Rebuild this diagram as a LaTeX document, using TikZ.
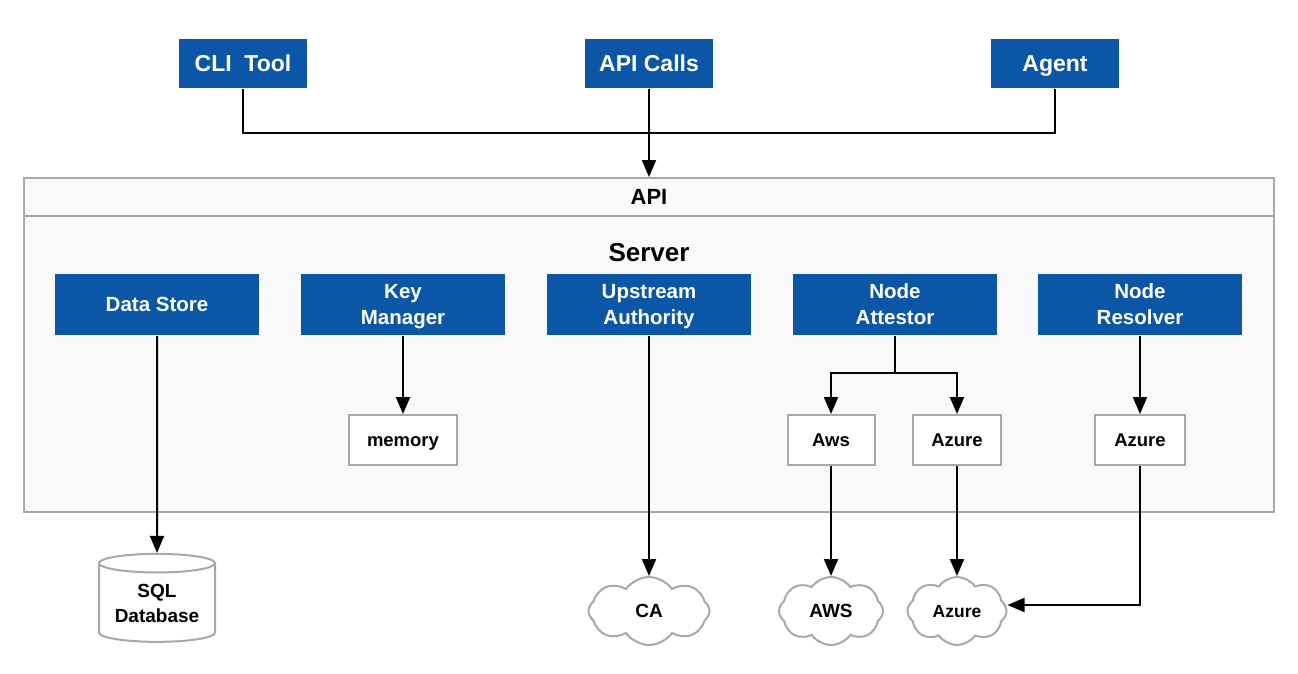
\documentclass[tikz,border=0pt]{standalone}
\usepackage{fontspec}
\setmainfont{Liberation Sans}
\usetikzlibrary{arrows.meta}
\usetikzlibrary{shapes.geometric}
\usetikzlibrary{shapes.symbols}
\definecolor{sblue}{RGB}{12, 86, 168}
\definecolor{sgrey}{RGB}{168, 168, 168}
\definecolor{sback}{RGB}{250, 250, 250}
\tikzset{oneline/.style = {font=\bfseries\fontsize{#1}{#1}\selectfont,
                           text height=0.76*#1, text depth=0.04*#1}}
\tikzset{topbox/.style = {fill=sblue, text=white, inner sep=0, oneline=23pt,
                          minimum width=128, minimum height=49}}
\tikzset{bluebox/.style = {fill=sblue, text=white, inner sep=0, align=center, text depth=0,
                           minimum width=204, minimum height=61,
                           font=\bfseries\fontsize{20.5}{26}\selectfont}}
\tikzset{whitebox/.style = {draw=sgrey, fill=white, inner sep=0, oneline=18.5pt,
                            minimum height=50}}
\tikzset{cloudy/.style = {cloud, cloud puffs=8, cloud puff arc=110, aspect=2, draw=sgrey,
                          fill=white, inner sep=0, oneline=19pt}}
\tikzset{arr/.style = {-{Triangle[length=17pt, width=14pt]}}}

\begin{document}
\begin{tikzpicture}[x=1pt, y=-1pt, line width=2]
    \useasboundingbox (0, 0) rectangle (1298, 674);
    \node [draw=sgrey, fill=sback, minimum width=1250, minimum height=334] (server) at (649, 345) {};
    \node [draw=sgrey, fill=sback, minimum width=1250, minimum height=38, oneline=22pt] (api) at (649, 197) {API};
    \node [oneline=26pt] (srv) at (649, 252) {Server};
    \foreach \x/\name/\txt in {243/cli/CLI\ \ Tool, 649/calls/API Calls, 1055/agent/Agent} {
      \node [topbox] (\name) at (\x, 63.5) {\txt};
    }
    \foreach \x/\name/\txt in {157/store/Data Store, 403/keys/Key\\Manager,
                               649/upstream/Upstream\\Authority, 895/attestor/Node\\Attestor,
                               1140/resolver/Node\\Resolver} {
      \node [bluebox] (\name) at (\x, 304.5) {\txt};
    }
    \node [whitebox, minimum width=108] (memory) at (403, 440) {memory};
    \node [whitebox, minimum width=87] (aws) at (831, 440) {Aws};
    \node [whitebox, minimum width=88] (azatt) at (957, 440) {Azure};
    \node [whitebox, minimum width=90] (azres) at (1140, 440) {Azure};
    \node [cylinder, shape border rotate=90, aspect=0.22, draw=sgrey, fill=white,
           minimum width=116, minimum height=88, inner sep=0, align=center,
           font=\bfseries\fontsize{19}{25}\selectfont] (sql) at (157, 603) {SQL\\Database};
    \node [cloudy, minimum width=121, minimum height=68] (ca) at (649, 611) {CA};
    \node [cloudy, minimum width=104, minimum height=68] (awscl) at (831, 611) {AWS};
    \node [cloudy, minimum width=99, minimum height=68, oneline=17.5pt] (azcl) at (957, 611) {Azure};
    \coordinate (bus) at (649, 133);
    \coordinate (split) at (895, 373);
    \draw (cli.south) |- (bus) -| (agent.south);
    \draw [arr] (calls.south) -- (api.north);
    \draw [arr] (store.south) -- (sql.north);
    \draw [arr] (keys.south) -- (memory.north);
    \draw [arr] (upstream.south) -- (ca.north);
    \draw (attestor.south) -- (split);
    \draw [arr] (split) -| (aws.north);
    \draw [arr] (split) -| (azatt.north);
    \draw [arr] (resolver.south) -- (azres.north);
    \draw [arr] (aws.south) -- (awscl.north);
    \draw [arr] (azatt.south) -- (azcl.north);
    \draw [arr] (azres.south) |- ([yshift=6]azcl.east);
  \end{tikzpicture}
\end{document}
